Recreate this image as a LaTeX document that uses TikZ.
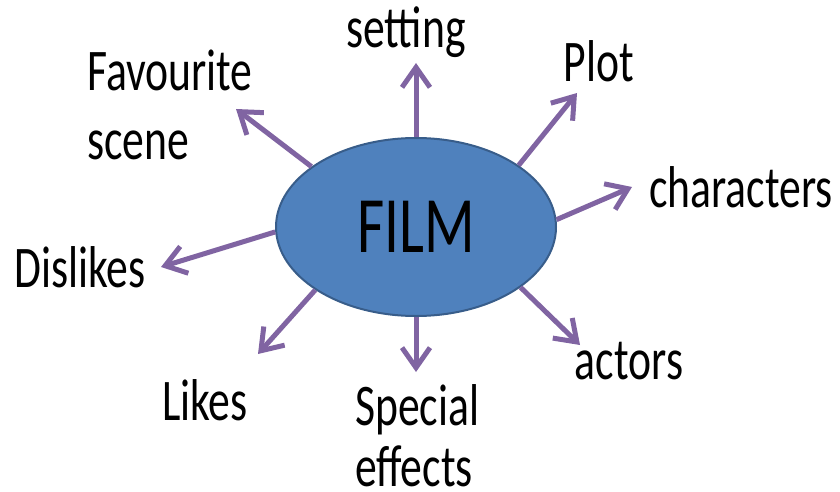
\documentclass[tikz,border=0pt]{standalone}
\usepackage{fontspec}
\setmainfont[FakeStretch=0.74]{Carlito}
\usetikzlibrary{arrows.meta, shapes.geometric}
\definecolor{filmblue}{HTML}{4F81BD}
\definecolor{filmedge}{HTML}{385D8A}
\definecolor{armpurple}{HTML}{8064A2}

\begin{document}
\begin{tikzpicture}[x=1pt, y=-1pt,
    topic/.style={ellipse, draw=filmedge, line width=2pt, fill=filmblue, minimum width=280pt, minimum height=178pt, inner sep=0pt, font=\fontsize{80}{86}\selectfont},
    idea/.style={inner sep=0pt, font=\fontsize{59}{67}\selectfont},
    arm/.style={color=armpurple, line width=5pt, -{Straight Barb[length=20pt, width=28pt]}}]
    \useasboundingbox (0,0) rectangle (840,492);
    \node[topic] (film) at (416,227) {FILM};

    \node[idea, anchor=base] (setting) at (406,48) {setting};
    \node[idea, anchor=base] (plot) at (599,82) {Plot};
    \node[idea, anchor=base] (characters) at (741,207) {characters};
    \node[idea, anchor=base] (actors) at (629,379) {actors};
    \node[idea, anchor=base west, align=left] (special) at (355,486) {Special\\[-6pt]effects};
    \node[idea, anchor=base] (likes) at (205,420) {Likes};
    \node[idea, anchor=base] (dislikes) at (80,287) {Dislikes};
    \node[idea, anchor=base west, align=left] (favourite) at (87,159) {Favourite\\[2pt]scene};

    % arrow tips
    \coordinate (settingtip) at (416,63);
    \coordinate (plottip) at (577,93);
    \coordinate (characterstip) at (632,187);
    \coordinate (actorstip) at (580,345);
    \coordinate (specialtip) at (416,372);
    \coordinate (likestip) at (258,354);
    \coordinate (dislikestip) at (161,267);
    \coordinate (favouritetip) at (236,109);

    \path[arm]
    (film.90) edge (settingtip)
    (film.31) edge (plottip)
    (film.3) edge (characterstip)
    (film.330) edge (actorstip)
    (film.270) edge (specialtip)
    (film.212) edge (likestip)
    (film.182) edge (dislikestip)
    (film.150) edge (favouritetip);
\end{tikzpicture}
\end{document}
